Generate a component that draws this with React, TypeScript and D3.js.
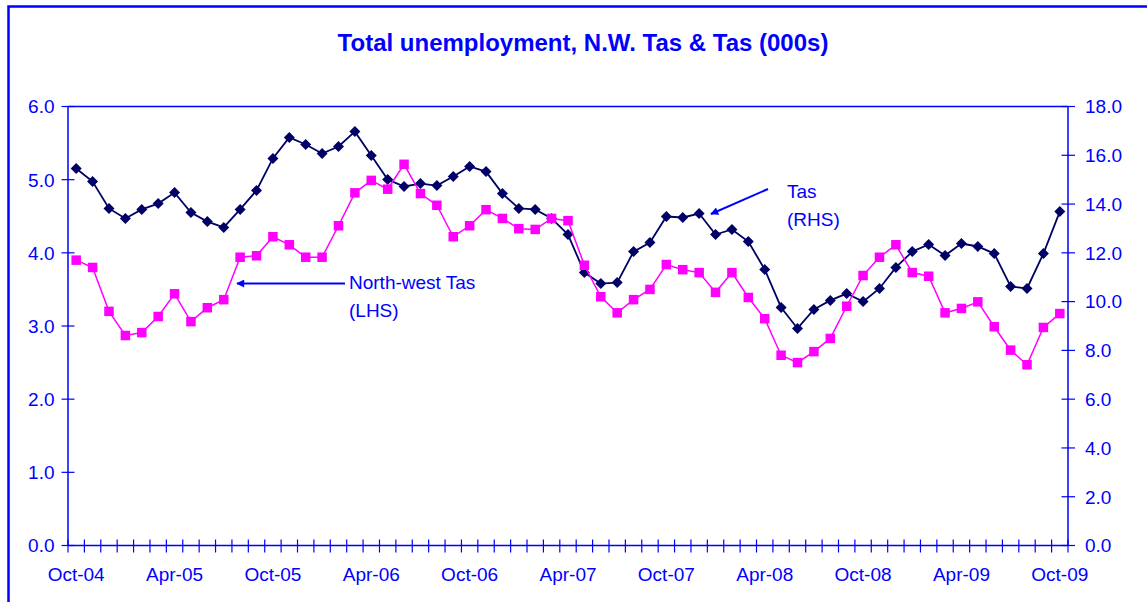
import React from "react";
import * as d3 from "d3";

const months = ["Oct","Nov","Dec","Jan","Feb","Mar","Apr","May","Jun","Jul","Aug","Sep"];
const categories: string[] = Array.from({ length: 61 }, (_, i) => {
  const m = months[i % 12];
  const yr = 4 + Math.floor((i + 9) / 12);
  return `${m}-${String(yr).padStart(2, "0")}`;
});

const nwTas = [
  3.90, 3.80, 3.20, 2.87, 2.91, 3.13, 3.44, 3.06, 3.25, 3.36,
  3.94, 3.96, 4.22, 4.11, 3.94, 3.94, 4.37, 4.82, 4.99, 4.87,
  5.21, 4.81, 4.65, 4.22, 4.37, 4.59, 4.47, 4.33, 4.32, 4.47,
  4.44, 3.83, 3.40, 3.18, 3.36, 3.50, 3.84, 3.77, 3.73, 3.46,
  3.73, 3.39, 3.10, 2.60, 2.50, 2.65, 2.83, 3.27, 3.69, 3.94,
  4.11, 3.73, 3.68, 3.18, 3.24, 3.33, 2.99, 2.67, 2.47, 2.98,
  3.17,
];

const tas = [
  15.46, 14.92, 13.82, 13.41, 13.78, 14.02, 14.47, 13.65, 13.28, 13.04,
  13.78, 14.56, 15.87, 16.73, 16.44, 16.07, 16.36, 16.97, 15.99, 15.01,
  14.72, 14.84, 14.76, 15.13, 15.54, 15.33, 14.43, 13.82, 13.78, 13.41,
  12.75, 11.19, 10.74, 10.78, 12.05, 12.42, 13.49, 13.45, 13.61, 12.75,
  12.96, 12.46, 11.32, 9.76, 8.90, 9.68, 10.05, 10.33, 10.00, 10.54,
  11.40, 12.05, 12.34, 11.89, 12.38, 12.26, 11.97, 10.62, 10.54, 11.97,
  13.69,
];

const leftTicks = [0, 1, 2, 3, 4, 5, 6];
const rightTicks = [0, 2, 4, 6, 8, 10, 12, 14, 16, 18];

const BLUE = "#0000ff";
const NAVY = "#000066";
const MAGENTA = "#ff00ff";
const FONT = "Arial, 'Liberation Sans', Helvetica, sans-serif";

export default function App() {
  const W = 1147, H = 602;
  const L = 68, R = 1068, T = 106.5, B = 545.5;

  const x = d3.scaleBand<number>().domain(d3.range(categories.length)).range([L, R]).padding(0);
  const cx = (i: number) => (x(i) as number) + x.bandwidth() / 2;
  const yL = d3.scaleLinear().domain([0, 6]).range([B, T]);
  const yR = d3.scaleLinear().domain([0, 18]).range([B, T]);

  const lineL = d3.line<number>().x((_, i) => cx(i)).y((d) => yL(d));
  const lineR = d3.line<number>().x((_, i) => cx(i)).y((d) => yR(d));

  const boundaries = d3.range(categories.length + 1).map((i) => L + i * x.bandwidth());

  return (
    <svg width={W} height={H} style={{ position: "absolute", left: 0, top: 0, background: "#fff" }}>
      <defs>
        <marker id="ah" viewBox="0 0 10 10" refX="9" refY="5" markerWidth="9" markerHeight="8" orient="auto-start-reverse" markerUnits="userSpaceOnUse">
          <path d="M0,0 L10,5 L0,10 z" fill={BLUE} />
        </marker>
      </defs>
      <rect x={0} y={0} width={W} height={H} fill="#fff" />
      {/* outer frame */}
      <rect x={8.5} y={6.5} width={W + 20} height={H + 20} fill="none" stroke={BLUE} strokeWidth={2.5} />

      {/* title */}
      <text x={583} y={51} textAnchor="middle" fontFamily={FONT} fontWeight="bold" fontSize={24} fill={BLUE}>
        Total unemployment, N.W. Tas &amp; Tas (000s)
      </text>

      {/* plot top border */}
      <line x1={L} x2={R} y1={T} y2={T} stroke={BLUE} strokeWidth={1.5} />
      {/* left axis */}
      <line x1={L} x2={L} y1={T} y2={B} stroke={BLUE} strokeWidth={1.5} />
      {leftTicks.map((t) => (
        <g key={"l" + t}>
          <line x1={L - 6.5} x2={L + 6.5} y1={yL(t)} y2={yL(t)} stroke={BLUE} strokeWidth={1.2} />
          <text x={54.5} y={yL(t)} dy="0.36em" textAnchor="end" fontFamily={FONT} fontSize={19} fill={BLUE}>
            {t.toFixed(1)}
          </text>
        </g>
      ))}
      {/* right axis */}
      <line x1={R} x2={R} y1={T} y2={B} stroke={BLUE} strokeWidth={1.5} />
      {rightTicks.map((t) => (
        <g key={"r" + t}>
          <line x1={R - 6.5} x2={R + 7} y1={yR(t)} y2={yR(t)} stroke={BLUE} strokeWidth={1.2} />
          <text x={1085} y={yR(t)} dy="0.36em" textAnchor="start" fontFamily={FONT} fontSize={19} fill={BLUE}>
            {t.toFixed(1)}
          </text>
        </g>
      ))}
      {/* x axis */}
      <line x1={L} x2={R} y1={B} y2={B} stroke={BLUE} strokeWidth={1.5} />
      {boundaries.map((bx, i) => (
        <line key={"xt" + i} x1={bx} x2={bx} y1={B - 6} y2={B + 7} stroke={BLUE} strokeWidth={1.2} />
      ))}
      {categories.map((c, i) =>
        i % 6 === 0 ? (
          <text key={"xl" + i} x={cx(i)} y={581} textAnchor="middle" fontFamily={FONT} fontSize={19} fill={BLUE}>
            {c}
          </text>
        ) : null
      )}

      {/* Tas series (RHS) */}
      <path d={lineR(tas) || ""} fill="none" stroke={NAVY} strokeWidth={1.8} />
      {tas.map((v, i) => (
        <path key={"d" + i} d={`M${cx(i)},${yR(v) - 5.5} L${cx(i) + 5.5},${yR(v)} L${cx(i)},${yR(v) + 5.5} L${cx(i) - 5.5},${yR(v)} Z`} fill={NAVY} />
      ))}

      {/* NW Tas series (LHS) */}
      <path d={lineL(nwTas) || ""} fill="none" stroke={MAGENTA} strokeWidth={1.5} />
      {nwTas.map((v, i) => (
        <rect key={"s" + i} x={cx(i) - 4.75} y={yL(v) - 4.75} width={9.5} height={9.5} fill={MAGENTA} />
      ))}

      {/* annotations */}
      <line x1={345} y1={283.5} x2={237} y2={283.5} stroke={BLUE} strokeWidth={2} markerEnd="url(#ah)" />
      <text x={349} y={289} fontFamily={FONT} fontSize={19} fill={BLUE}>North-west Tas</text>
      <text x={349} y={317} fontFamily={FONT} fontSize={19} fill={BLUE}>(LHS)</text>

      <line x1={768} y1={189} x2={711} y2={214} stroke={BLUE} strokeWidth={2} markerEnd="url(#ah)" />
      <text x={787} y={198} fontFamily={FONT} fontSize={19} fill={BLUE}>Tas</text>
      <text x={787} y={226} fontFamily={FONT} fontSize={19} fill={BLUE}>(RHS)</text>
    </svg>
  );
}
